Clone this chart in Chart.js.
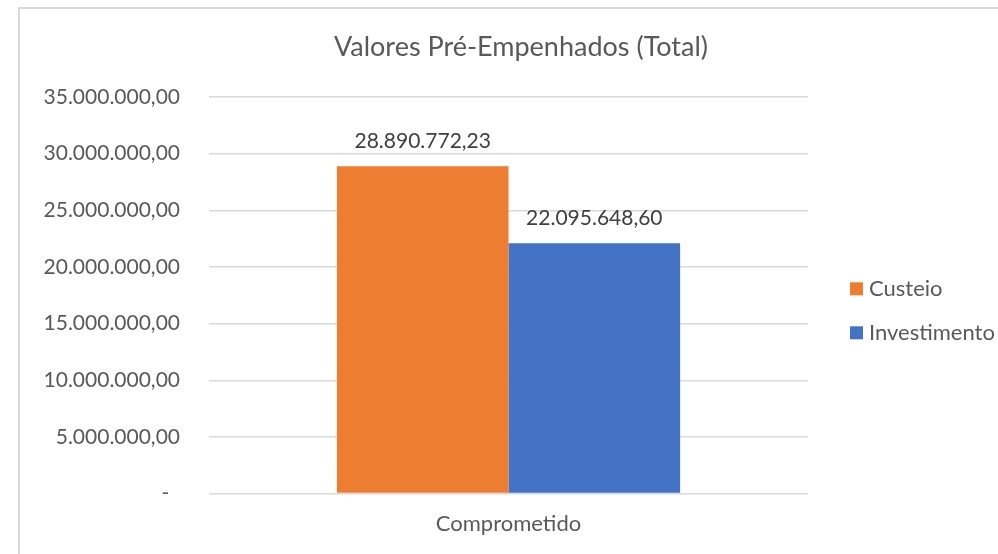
<!DOCTYPE html>
<html>
<head>
<meta charset="utf-8">
<style>
  html, body { margin: 0; padding: 0; background: #fff; overflow: hidden; }
  #wrap { position: relative; width: 998px; height: 554px; }
  #frame { position: absolute; left: 18px; top: 7px; width: 1100px; height: 700px; border: 2px solid #d9d9d9; pointer-events: none; }
  canvas { position: absolute; left: 0; top: 0; }
</style>
<script src="https://cdn.jsdelivr.net/npm/chart.js@4.4.1/dist/chart.umd.min.js"></script>
</head>
<body>
<div id="wrap">
  <canvas id="chart" width="998" height="554"></canvas>
  <div id="frame"></div>
</div>
<script>
  // Data
  const chartTitle = 'Valores Pré-Empenhados (Total)';
  const categories = ['Comprometido'];
  const seriesNames = ['Custeio', 'Investimento'];
  const custeio = [28890772.23];
  const investimento = [22095648.60];
  const seriesColors = ['#ED7D31', '#4472C4'];
  const yMax = 35000000;
  const yStep = 5000000;

  const FONT = 'Lato, "Open Sans", sans-serif';

  // pt-BR style number: 28.890.772,23
  function fmt(v) {
    const parts = Math.abs(v).toFixed(2).split('.');
    const intPart = parts[0].replace(/\B(?=(\d{3})+(?!\d))/g, '.');
    return intPart + ',' + parts[1];
  }

  // Title, value labels and legend drawn Excel-like
  const excelDecor = {
    id: 'excelDecor',
    afterDatasetsDraw(chart) {
      const ctx = chart.ctx;
      ctx.save();
      ctx.font = '21px ' + FONT;
      ctx.fillStyle = '#404040';
      ctx.textAlign = 'center';
      ctx.textBaseline = 'middle';
      chart.data.datasets.forEach((ds, i) => {
        chart.getDatasetMeta(i).data.forEach((bar, j) => {
          ctx.fillText(fmt(ds.data[j]), bar.x, bar.y - 25);
        });
      });
      ctx.restore();
    },
    afterDraw(chart) {
      const ctx = chart.ctx;
      const area = chart.chartArea;
      ctx.save();
      // title
      ctx.font = '27px ' + FONT;
      ctx.fillStyle = '#595959';
      ctx.textAlign = 'center';
      ctx.textBaseline = 'middle';
      ctx.fillText(chartTitle, 521, 47);
      // legend
      ctx.font = '22px ' + FONT;
      ctx.textAlign = 'left';
      const midY = (area.top + area.bottom) / 2;
      chart.data.datasets.forEach((ds, i) => {
        const y = midY - 6 + i * 44;
        ctx.fillStyle = ds.backgroundColor;
        ctx.fillRect(area.right + 42, y - 7, 13, 13);
        ctx.fillStyle = '#595959';
        ctx.fillText(ds.label, area.right + 61, y);
      });
      ctx.restore();
    }
  };

  new Chart(document.getElementById('chart'), {
    type: 'bar',
    data: {
      labels: categories,
      datasets: [
        { label: seriesNames[0], data: custeio, backgroundColor: seriesColors[0] },
        { label: seriesNames[1], data: investimento, backgroundColor: seriesColors[1] }
      ]
    },
    options: {
      responsive: false,
      animation: false,
      layout: { padding: { top: 97, right: 190, bottom: 0, left: 0 } },
      datasets: {
        bar: { barPercentage: 1, categoryPercentage: 0.573 }
      },
      plugins: {
        legend: { display: false },
        title: { display: false },
        tooltip: { enabled: false }
      },
      scales: {
        x: {
          grid: { display: false, drawTicks: false },
          border: { display: false },
          ticks: { color: '#595959', font: { family: FONT, size: 22 }, padding: 17 }
        },
        y: {
          min: 0,
          max: yMax,
          grid: { color: '#d9d9d9', lineWidth: 1.5, drawTicks: false },
          border: { display: false },
          ticks: {
            stepSize: yStep,
            color: '#595959',
            font: { family: FONT, size: 21 },
            padding: 29,
            callback: v => v === 0 ? '-  ' : fmt(v)
          },
          afterFit(scale) { scale.width = 209; }
        }
      }
    },
    plugins: [excelDecor]
  });
</script>
</body>
</html>
